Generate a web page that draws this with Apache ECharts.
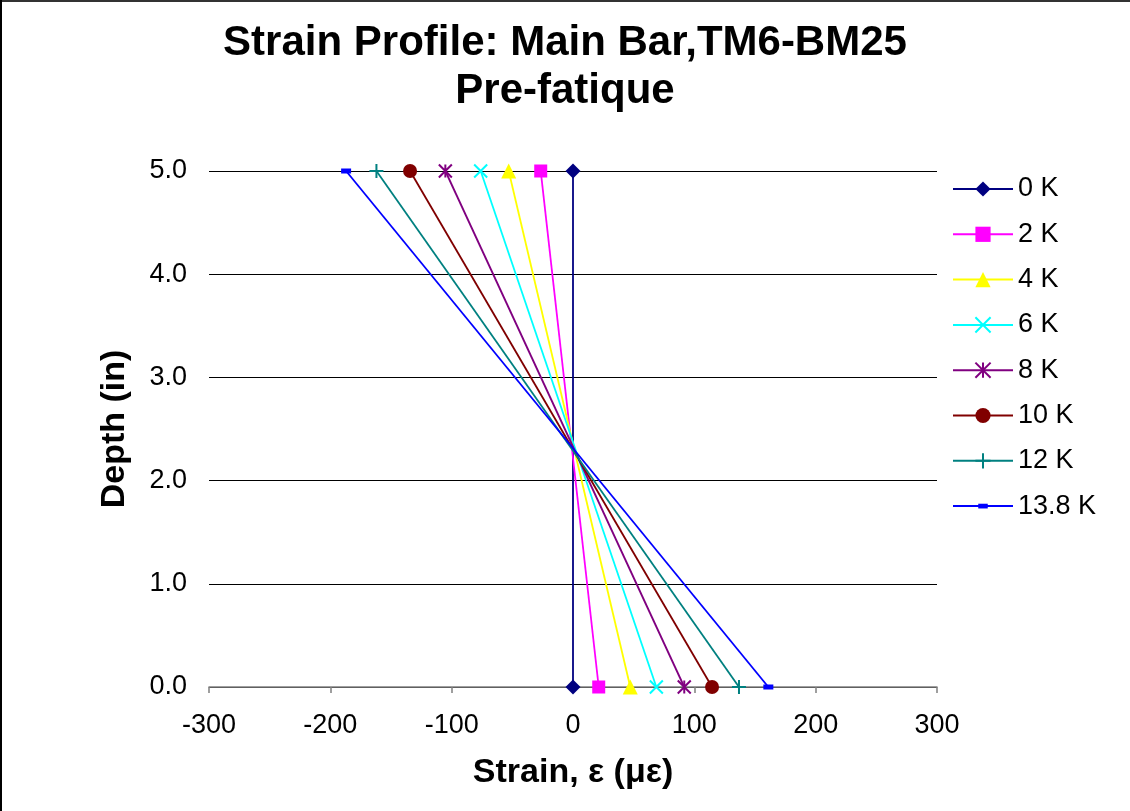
<!DOCTYPE html>
<html>
<head>
<meta charset="utf-8">
<script src="https://cdn.jsdelivr.net/npm/echarts@6/dist/echarts.min.js"></script>
<style>
html,body{margin:0;padding:0;background:#fff;}
#chart{width:1130px;height:811px;}
</style>
</head>
<body>
<div id="chart"></div>
<script>
// Data
const seriesNames = ['0 K', '2 K', '4 K', '6 K', '8 K', '10 K', '12 K', '13.8 K'];
const depths = [5.0, 0.0];
const strainTop = [0, -26.6, -53, -76.1, -105.2, -134.3, -162, -187];
const strainBottom = [0, 21.2, 47.2, 68.7, 91.7, 114.6, 136.8, 161];
const xTicks = [-300, -200, -100, 0, 100, 200, 300];
const yTicks = [0, 1, 2, 3, 4, 5];

const colors = ['#000080', '#FF00FF', '#FFFF00', '#00FFFF', '#800080', '#800000', '#008080', '#0000FF'];
const symbols = [
  'diamond',
  'rect',
  'triangle',
  'path://M0,0L10,10M10,0L0,10',
  'path://M5,0L5,10M0,0L10,10M10,0L0,10',
  'circle',
  'path://M5,0L5,10M0,5L10,5',
  'path://M0,0M16,16M3,5.5L13,5.5L13,10.5L3,10.5Z'
];
const symbolSizes = [15, 13, 15, 13, 13, 14, 14, 16];
const strokeSymbol = [false, false, false, true, true, false, true, false];

const FONT = 'Liberation Sans, Arial, sans-serif';

const series = seriesNames.map((name, i) => ({
  name: name,
  type: 'line',
  data: [[strainTop[i], depths[0]], [strainBottom[i], depths[1]]],
  symbol: symbols[i],
  symbolSize: symbolSizes[i],
  showAllSymbol: true,
  lineStyle: { color: colors[i], width: 1.8 },
  itemStyle: strokeSymbol[i]
    ? { color: colors[i], borderColor: colors[i], borderWidth: 2 }
    : { color: colors[i], borderWidth: 0 },
  emphasis: { disabled: true },
  animation: false,
  z: 10 + i
}));

const chart = echarts.init(document.getElementById('chart'), null, { renderer: 'canvas' });
chart.setOption({
  backgroundColor: '#fff',
  animation: false,
  title: {
    text: 'Strain Profile: Main Bar,TM6-BM25\nPre-fatique',
    left: 'center',
    top: 14,
    textStyle: {
      fontFamily: FONT,
      fontWeight: 'bold',
      fontSize: 42,
      lineHeight: 48,
      color: '#000'
    }
  },
  legend: {
    orient: 'vertical',
    left: 947,
    top: 170.5,
    itemWidth: 60,
    itemHeight: 19,
    itemGap: 18.3,
    textStyle: { fontFamily: FONT, fontSize: 27, lineHeight: 27, color: '#000' },
    data: seriesNames
  },
  grid: { left: 209, top: 171, width: 728, height: 516, containLabel: false },
  xAxis: {
    type: 'value',
    min: -300,
    max: 300,
    interval: 100,
    name: 'Strain, ε (με)',
    nameLocation: 'middle',
    nameGap: 69,
    nameTextStyle: { fontFamily: FONT, fontWeight: 'bold', fontSize: 34, color: '#000' },
    axisLine: { show: true, onZero: false, lineStyle: { color: '#808080', width: 1.5 } },
    axisTick: { show: true, inside: false, length: 6, lineStyle: { color: '#808080', width: 1.5 } },
    axisLabel: { fontFamily: FONT, fontSize: 27, color: '#000', margin: 25 },
    splitLine: { show: false }
  },
  yAxis: {
    type: 'value',
    min: 0,
    max: 5,
    interval: 1,
    name: 'Depth (in)',
    nameLocation: 'middle',
    nameGap: 77,
    nameTextStyle: { fontFamily: FONT, fontWeight: 'bold', fontSize: 34, color: '#000' },
    axisLine: { show: false },
    axisTick: { show: false },
    axisLabel: { fontFamily: FONT, fontSize: 27, color: '#000', margin: 22, formatter: v => v.toFixed(1) },
    splitLine: { show: true, lineStyle: { color: '#000', width: 1 } }
  },
  graphic: [
    { type: 'rect', left: 0, top: 0, shape: { width: 1130, height: 2 }, style: { fill: '#333' } },
    { type: 'rect', left: 0, top: 0, shape: { width: 2, height: 811 }, style: { fill: '#000' } }
  ],
  series: series
});
</script>
</body>
</html>
